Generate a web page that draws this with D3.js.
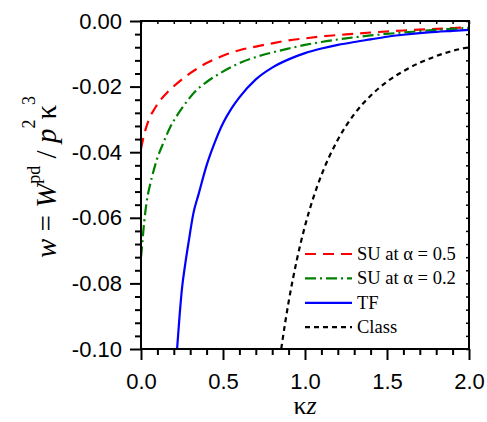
<!DOCTYPE html>
<html><head><meta charset="utf-8">
<script src="https://cdn.jsdelivr.net/npm/d3@7"></script>
<style>body{margin:0;background:#fff}svg{display:block}</style>
</head><body><svg id="c" width="487" height="422"></svg>
<script>
// ---- data ----
const xTicks = [0, 0.5, 1.0, 1.5, 2.0];
const xTickLabels = ["0.0", "0.5", "1.0", "1.5", "2.0"];
const yTicks = [0, -0.02, -0.04, -0.06, -0.08, -0.10];
const yTickLabels = ["0.00", "-0.02", "-0.04", "-0.06", "-0.08", "-0.10"];
const seriesNames = ["SU at α = 0.5", "SU at α = 0.2", "TF", "Class"];

const su05X = [0.00,0.015,0.03,0.05,0.085,0.12,0.16,0.20,0.25,0.30,0.35,0.40,0.46,0.53,0.60,0.70,0.80,0.90,1.00,1.10,1.25,1.40,1.60,1.80,2.00];
const su05Y = [-0.0390,-0.0355,-0.0327,-0.0298,-0.0266,-0.0240,-0.0218,-0.0199,-0.0178,-0.0159,-0.0143,-0.0128,-0.0114,-0.0100,-0.0089,-0.0078,-0.0068,-0.0059,-0.0053,-0.0047,-0.0041,-0.0035,-0.0029,-0.0024,-0.0019];

const su02X = [0.000,0.004,0.010,0.020,0.035,0.055,0.075,0.095,0.135,0.18,0.23,0.28,0.33,0.40,0.48,0.56,0.62,0.70,0.80,0.90,1.00,1.10,1.25,1.40,1.60,1.80,2.00];
const su02Y = [-0.0720,-0.0700,-0.0665,-0.0610,-0.0550,-0.0500,-0.0460,-0.0425,-0.0373,-0.0322,-0.0280,-0.0245,-0.0215,-0.0186,-0.0160,-0.0138,-0.0124,-0.0110,-0.0096,-0.0084,-0.0073,-0.0064,-0.0053,-0.0044,-0.0035,-0.0027,-0.0021];

const tfX = [0.22,0.235,0.25,0.27,0.29,0.32,0.35,0.40,0.45,0.50,0.55,0.60,0.70,0.80,0.90,1.00,1.10,1.20,1.30,1.40,1.50,1.60,1.70,1.80,1.90,2.00];
const tfY = [-0.100,-0.090,-0.0815,-0.074,-0.0675,-0.0585,-0.0530,-0.0440,-0.0370,-0.0312,-0.0268,-0.0233,-0.0178,-0.0142,-0.0117,-0.0098,-0.0084,-0.0073,-0.0064,-0.0056,-0.0048,-0.0042,-0.0037,-0.0033,-0.0030,-0.0027];

const classX = [0.855,0.88,0.90,0.95,1.00,1.05,1.10,1.20,1.30,1.40,1.50,1.60,1.70,1.80,1.90,2.00];
const classY = [-0.100,-0.0917,-0.0857,-0.0729,-0.0625,-0.0540,-0.0470,-0.0362,-0.0284,-0.0228,-0.0185,-0.0153,-0.0127,-0.0107,-0.0091,-0.0080];

// ---- layout ----
const L = 141, R = 469, T = 21, B = 349;
const svg = d3.select("#c");
const x = d3.scaleLinear().domain([0, 2]).range([L, R]);
const y = d3.scaleLinear().domain([-0.10, 0]).range([B, T]);

const styles = [
  {color: "#ff0000", dash: "11,7"},
  {color: "#008000", dash: "11,4,2,4"},
  {color: "#0000ff", dash: null},
  {color: "#000000", dash: "5,4"}
];
const series = [[su05X, su05Y], [su02X, su02Y], [tfX, tfY], [classX, classY]];

svg.append("defs").append("clipPath").attr("id", "clip")
  .append("rect").attr("x", L).attr("y", T).attr("width", R - L).attr("height", B - T);

const line = d3.line().x(d => x(d[0])).y(d => y(d[1])).curve(d3.curveMonotoneX);
const g = svg.append("g").attr("clip-path", "url(#clip)");
series.forEach((s, i) => {
  const pts = s[0].map((v, j) => [v, s[1][j]]);
  g.append("path").attr("d", line(pts)).attr("fill", "none")
    .attr("stroke", styles[i].color).attr("stroke-width", 2.2)
    .attr("stroke-dasharray", styles[i].dash);
});

// ---- axes ----
const xMinor = d3.range(0, 2.0001, 0.1).filter(v => Math.abs(v * 2 - Math.round(v * 2)) > 1e-6);
const xAll = d3.range(0, 2.0001, 0.1);
const yMinor = d3.range(-0.1, 0.0001, 0.004).filter(v => Math.abs(v * 50 - Math.round(v * 50)) > 1e-6);
const yAll = d3.range(-0.1, 0.0001, 0.004);

function style(sel, w) {
  sel.select(".domain").remove();
  sel.selectAll("line").attr("stroke", "#000").attr("stroke-width", w);
  sel.selectAll("text").attr("fill", "#000");
}
const tickFont = "'Liberation Sans', Arial, sans-serif";

svg.append("g").attr("transform", `translate(0,${B})`)
  .call(d3.axisBottom(x).tickValues(xTicks).tickSize(11).tickPadding(13).tickFormat((d, i) => xTickLabels[i]))
  .call(s => style(s, 2)).attr("font-family", tickFont).attr("font-size", 22);
svg.append("g").attr("transform", `translate(0,${B})`)
  .call(d3.axisBottom(x).tickValues(xMinor).tickSize(6).tickFormat(""))
  .call(s => style(s, 2));
svg.append("g").attr("transform", `translate(${L},0)`)
  .call(d3.axisLeft(y).tickValues(yTicks).tickSize(11).tickPadding(8).tickFormat((d, i) => yTickLabels[i]))
  .call(s => style(s, 2)).attr("font-family", tickFont).attr("font-size", 22);
svg.append("g").attr("transform", `translate(${L},0)`)
  .call(d3.axisLeft(y).tickValues(yMinor).tickSize(6).tickFormat(""))
  .call(s => style(s, 2));
svg.append("g").attr("transform", `translate(0,${T})`)
  .call(d3.axisTop(x).tickValues(xAll).tickSize(-3).tickFormat(""))
  .call(s => style(s, 1.5));
svg.append("g").attr("transform", `translate(${R},0)`)
  .call(d3.axisRight(y).tickValues(yAll).tickSize(-3).tickFormat(""))
  .call(s => style(s, 1.5));

svg.append("rect").attr("x", L).attr("y", T).attr("width", R - L).attr("height", B - T)
  .attr("fill", "none").attr("stroke", "#000").attr("stroke-width", 2);

// ---- axis titles ----
const serif = "'Liberation Serif', 'Times New Roman', serif";
const xt = svg.append("text").attr("x", 305).attr("y", 414).attr("text-anchor", "middle")
  .attr("font-family", serif).attr("font-size", 26);
xt.append("tspan").text("κ");
xt.append("tspan").attr("font-style", "italic").text("z");

const yt = svg.append("text").attr("transform", "translate(56,177) rotate(-90)")
  .attr("text-anchor", "middle").attr("font-family", serif).attr("font-size", 29);
yt.append("tspan").attr("font-style", "italic").text("w");
yt.append("tspan").text(" = ");
yt.append("tspan").attr("font-style", "italic").text("W");
yt.append("tspan").attr("font-size", 18).attr("dy", -16).text("pd");
yt.append("tspan").attr("dy", 16).text(" / ");
yt.append("tspan").attr("font-style", "italic").text("p");
yt.append("tspan").attr("font-size", 18).attr("dy", -21).text("2");
yt.append("tspan").attr("dy", 21).text("κ");
yt.append("tspan").attr("font-size", 18).attr("dy", -21).text("3");

// ---- legend ----
const lg = svg.append("g");
seriesNames.forEach((name, i) => {
  const ly = 254 + i * 24.4;
  lg.append("line").attr("x1", 305).attr("x2", 352).attr("y1", ly).attr("y2", ly)
    .attr("stroke", styles[i].color).attr("stroke-width", 2.2)
    .attr("stroke-dasharray", styles[i].dash);
  lg.append("text").attr("x", 357).attr("y", ly + 6).attr("font-family", serif)
    .attr("font-size", 18.5).attr("fill", "#000").text(name);
});
</script>
</body></html>
